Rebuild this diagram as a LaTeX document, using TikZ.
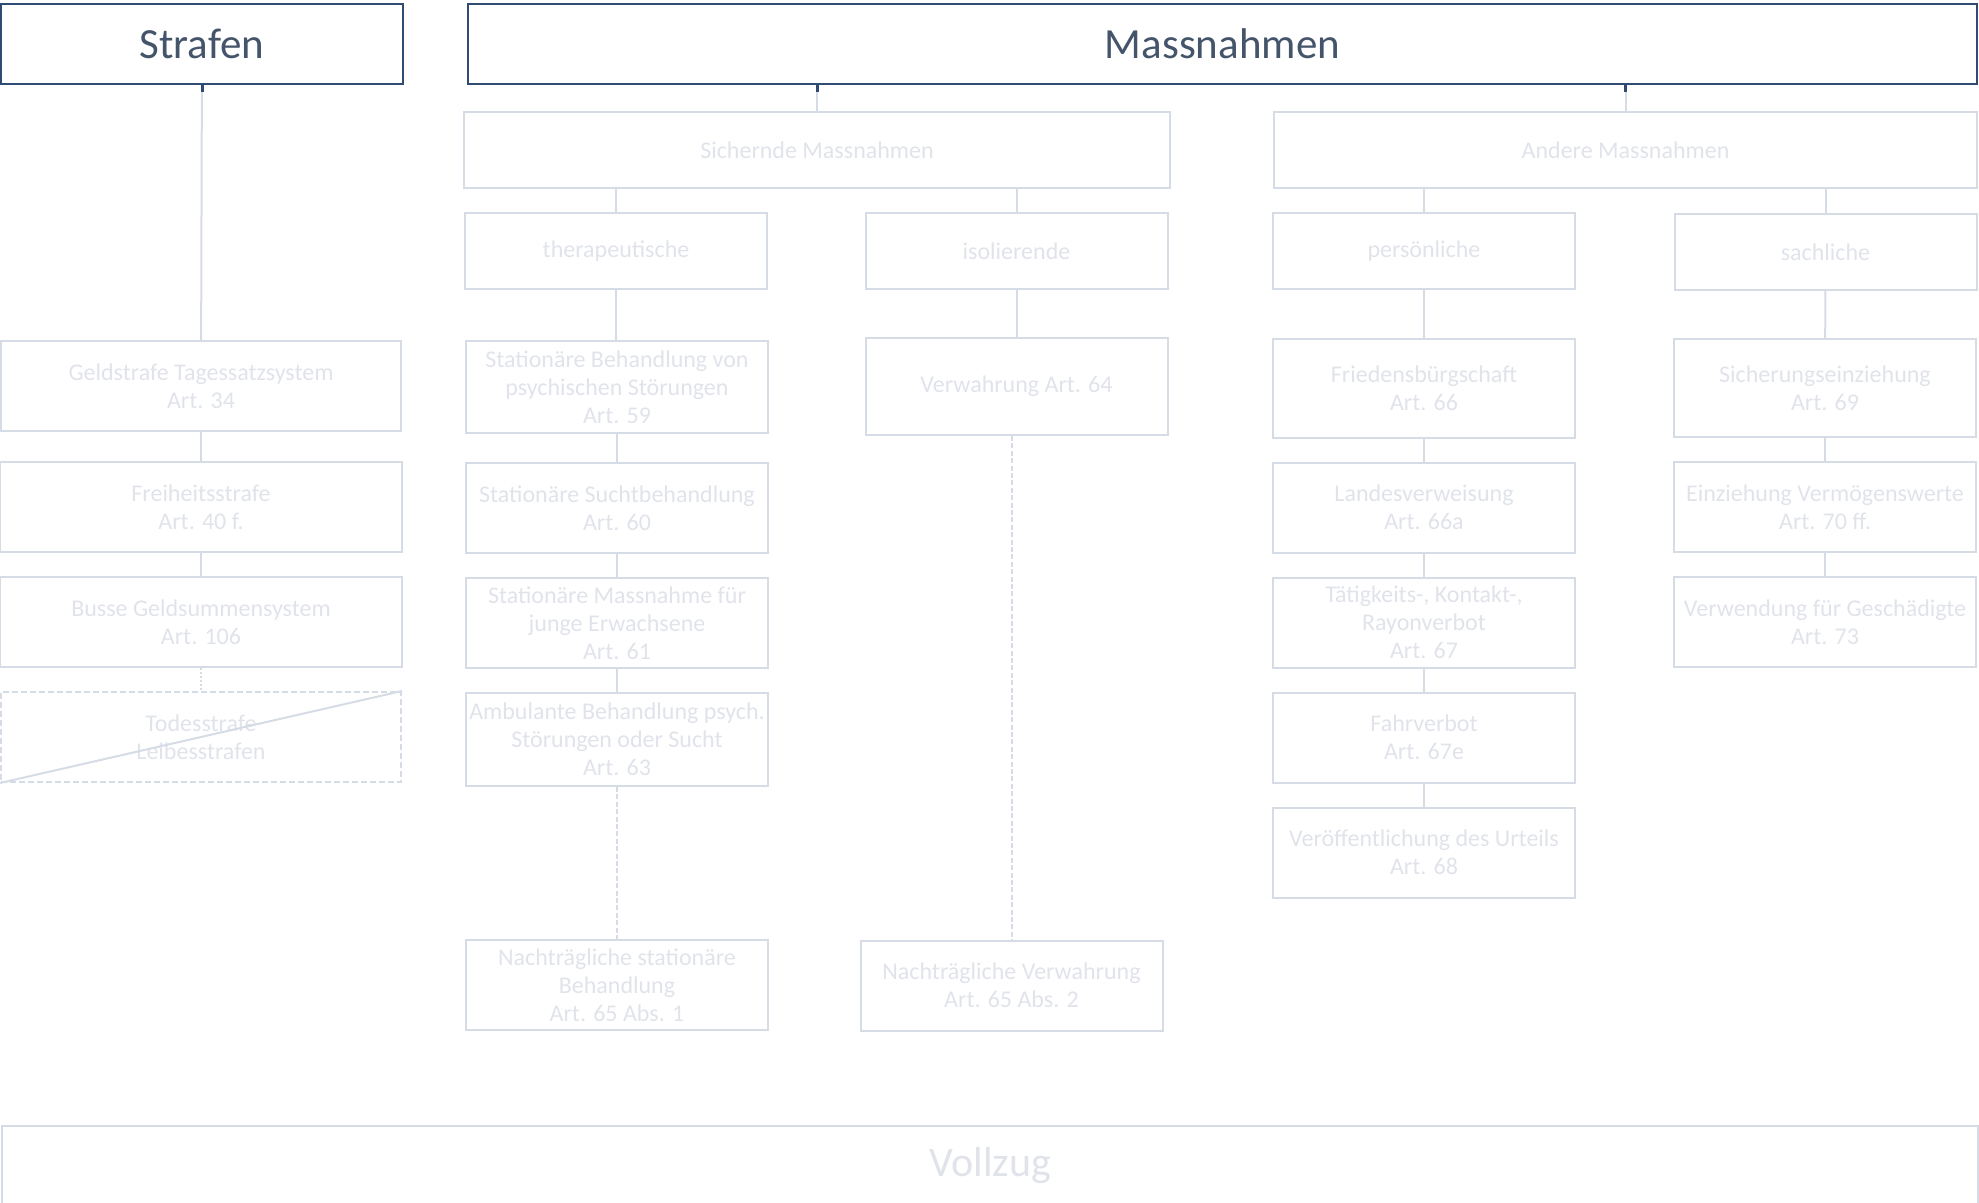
\documentclass[tikz,border=0pt]{standalone}
\usepackage{fontspec}
\setmainfont{Carlito}
\usepackage{xcolor}
\usetikzlibrary{positioning}
\definecolor{navy}{HTML}{2F4A73}
\definecolor{slate}{HTML}{44546A}
\definecolor{pale}{HTML}{D6DCE5}
\definecolor{paletext}{HTML}{E0E3EA}

\begin{document}
\begin{tikzpicture}[
        x=0.5pt, y=-0.5pt,
        font=\fontsize{12}{14}\selectfont,
        node distance=11.5pt,
        head/.style={draw=navy, line width=1.2pt, text=slate, font=\fontsize{21.5}{24}\selectfont, minimum height=40pt, inner sep=0pt},
        group/.style={draw=pale, line width=1pt, text=paletext, minimum width=151pt, minimum height=38pt, inner sep=0pt},
        item/.style={draw=pale, line width=1pt, text=paletext, align=center, minimum width=151pt, minimum height=45pt, inner sep=0pt},
        link/.style={draw=pale, line width=1pt},
        tick/.style={draw=navy, line width=1.5pt},
        later/.style={link, dash pattern=on 2.5pt off 1.2pt}
    ]
        \useasboundingbox (0,0) rectangle (1979,1203);

        % Hauptgruppen
        \node[head, minimum width=201pt] (strafen) at (202,44) {Strafen};
        \node[head, minimum width=754.5pt] (massn) at (1222.5,44) {Massnahmen};

        \node[group, minimum width=353pt] (sich) at (817,150) {Sichernde Massnahmen};
        \node[group, minimum width=351.5pt] (andere) at (1625.5,150) {Andere Massnahmen};

        \node[group] (thera) at (616,251) {therapeutische};
        \node[group] (iso) at (1016.5,251) {isolierende};
        \node[group] (pers) at (1424,251) {persönliche};
        \node[group] (sach) at (1825.5,252) {sachliche};

        % Strafen
        \node[item, minimum width=200pt] (geld) at (201,386) {Geldstrafe Tagessatzsystem\\Art. 34};
        \node[item, minimum width=201pt, below=14.5pt of geld] (frei) {Freiheitsstrafe\\Art. 40 f.};
        \node[item, minimum width=201pt, below=of frei] (busse) {Busse Geldsummensystem\\Art. 106};
        \node[item, minimum width=200pt, dash pattern=on 3pt off 1.5pt, below=of busse] (tod) {Todesstrafe\\Leibesstrafen};

        % therapeutische / isolierende
        \node[item, minimum height=46pt] (stat) at (617,387) {Stationäre Behandlung von\\psychischen Störungen\\Art. 59};
        \node[item, below=14pt of stat] (sucht) {Stationäre Suchtbehandlung\\Art. 60};
        \node[item, below=of sucht] (junge) {Stationäre Massnahme für\\junge Erwachsene\\Art. 61};
        \node[item, minimum height=46.5pt, below=of junge] (ambu) {Ambulante Behandlung psych.\\Störungen oder Sucht\\Art. 63};
        \node[item] (nachstat) at (617,985) {Nachträgliche stationäre\\Behandlung\\Art. 65 Abs. 1};

        \node[item, minimum height=48.5pt] (verw) at (1016.5,386.5) {Verwahrung Art. 64};
        \node[item] (nachverw) at (1011.5,985.5) {Nachträgliche Verwahrung\\Art. 65 Abs. 2};

        % persönliche / sachliche
        \node[item, minimum height=49pt] (frieden) at (1424,388.5) {Friedensbürgschaft\\Art. 66};
        \node[item, below=of frieden] (landes) {Landesverweisung\\Art. 66a};
        \node[item, below=of landes] (taetig) {Tätigkeits-, Kontakt-,\\Rayonverbot\\Art. 67};
        \node[item, below=of taetig] (fahr) {Fahrverbot\\Art. 67e};
        \node[item, below=of fahr] (urteil) {Veröffentlichung des Urteils\\Art. 68};

        \node[item, minimum height=49pt] (sichein) at (1825,388) {Sicherungseinziehung\\Art. 69};
        \node[item, below=of sichein] (vermoeg) {Einziehung Vermögenswerte\\Art. 70 ff.};
        \node[item, below=of vermoeg] (geschaed) {Verwendung für Geschädigte\\Art. 73};

        \node[item, minimum width=988pt, minimum height=40pt, font=\fontsize{21}{24}\selectfont] (vollzug) at (990,1166) {Vollzug};

        % Verbindungen
        \draw[link] (strafen) -- (geld);
        \draw[tick] (strafen.south) -- ++(0,7);
        \draw[link] (massn.south -| sich.north) -- (sich.north);
        \draw[tick] (massn.south -| sich.north) -- ++(0,7);
        \draw[link] (massn.south -| andere.north) -- (andere.north);
        \draw[tick] (massn.south -| andere.north) -- ++(0,7);

        \draw[link] (sich.south -| thera.north) -- (thera.north);
        \draw[link] (sich.south -| iso.north) -- (iso.north);
        \draw[link] (andere.south -| pers.north) -- (pers.north);
        \draw[link] (andere.south -| sach.north) -- (sach.north);

        \draw[link] (geld) -- (frei);
        \draw[link] (frei) -- (busse);
        \draw[link, densely dotted] (busse) -- (tod);
        \draw[link] (tod.south west) -- (tod.north east);

        \draw[link] (thera.south) -- (thera.south |- stat.north);
        \draw[link] (stat) -- (sucht);
        \draw[link] (sucht) -- (junge);
        \draw[link] (junge) -- (ambu);
        \draw[later] (ambu) -- (nachstat);

        \draw[link] (iso) -- (verw);
        \draw[later] (nachverw.north |- verw.south) -- (nachverw.north);

        \draw[link] (pers) -- (frieden);
        \draw[link] (frieden) -- (landes);
        \draw[link] (landes) -- (taetig);
        \draw[link] (taetig) -- (fahr);
        \draw[link] (fahr) -- (urteil);

        \draw[link] (sach) -- (sichein);
        \draw[link] (sichein) -- (vermoeg);
        \draw[link] (vermoeg) -- (geschaed);
    \end{tikzpicture}
\end{document}
